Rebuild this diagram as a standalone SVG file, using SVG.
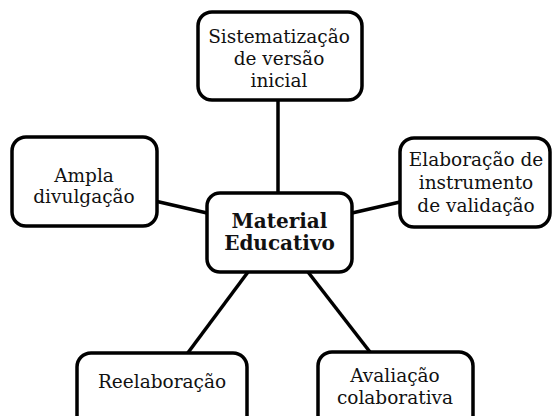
<svg xmlns="http://www.w3.org/2000/svg" width="553" height="416" viewBox="0 0 553 416">
<style>
.box{fill:#fff;stroke:#000;stroke-width:3.5}
.t{font-family:"DejaVu Serif","Liberation Serif",serif;font-size:18.5px;fill:#111;text-anchor:middle}
.b{font-weight:bold;font-size:20px}
.c{stroke:#000;stroke-width:3.5;fill:none}
</style>
<rect width="553" height="416" fill="#fff"/>
<g id="connectors">
<line class="c" x1="278" y1="100" x2="278" y2="193"/>
<line class="c" x1="155" y1="201" x2="207" y2="213"/>
<line class="c" x1="352" y1="213" x2="400" y2="202"/>
<line class="c" x1="248" y1="272" x2="187" y2="354"/>
<line class="c" x1="308" y1="272" x2="370" y2="352"/>
</g>
<g id="center">
<rect class="box" x="207" y="193" width="145" height="79" rx="13"/>
<text class="t b" x="279.5" y="228">Material</text>
<text class="t b" x="279.5" y="250">Educativo</text>
</g>
<g id="top">
<rect class="box" x="198" y="12" width="164" height="88" rx="14"/>
<text class="t" x="279" y="43">Sistematização</text>
<text class="t" x="279" y="65">de versão</text>
<text class="t" x="279" y="87">inicial</text>
</g>
<g id="left">
<rect class="box" x="12" y="137" width="145" height="89" rx="14"/>
<text class="t" x="84" y="182">Ampla</text>
<text class="t" x="84" y="203">divulgação</text>
</g>
<g id="right">
<rect class="box" x="400" y="138" width="150" height="89" rx="14"/>
<text class="t" x="476" y="166">Elaboração de</text>
<text class="t" x="476" y="189">instrumento</text>
<text class="t" x="476" y="212">de validação</text>
</g>
<g id="bottomleft">
<rect class="box" x="77" y="353" width="170" height="80" rx="14"/>
<text class="t" x="162" y="388">Reelaboração</text>
</g>
<g id="bottomright">
<rect class="box" x="318" y="352" width="155" height="80" rx="14"/>
<text class="t" x="395" y="382">Avaliação</text>
<text class="t" x="395" y="404">colaborativa</text>
</g>
</svg>
